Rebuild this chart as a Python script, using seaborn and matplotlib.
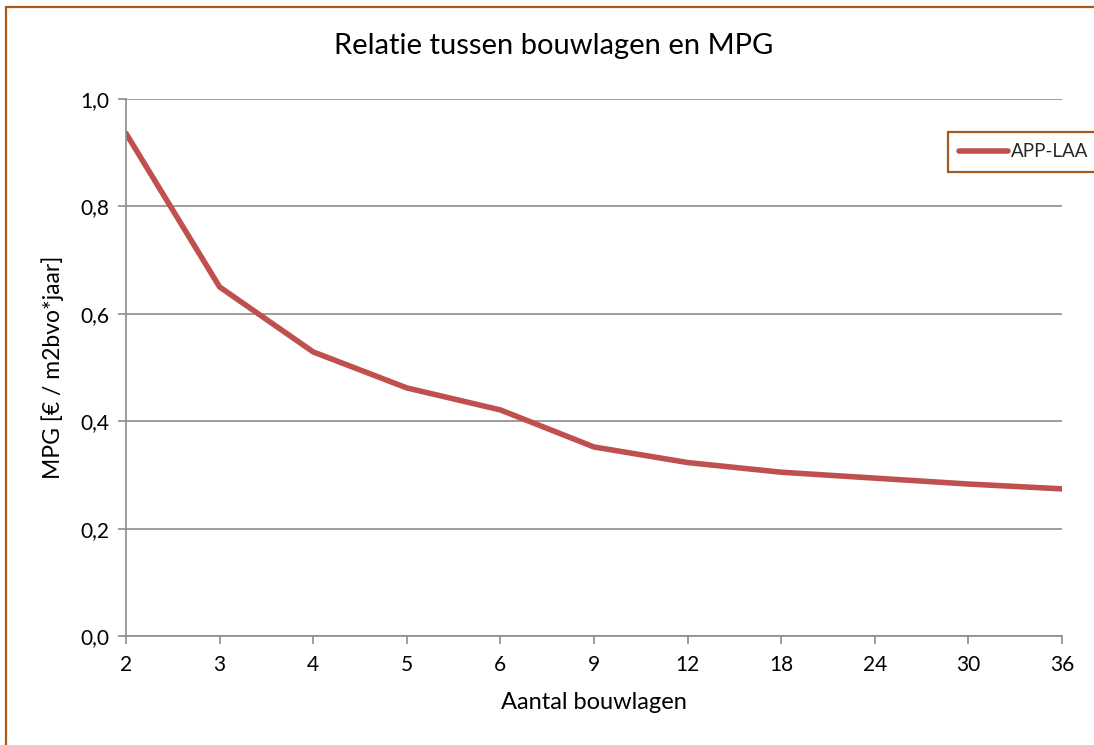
import matplotlib
matplotlib.use("Agg")
import matplotlib.pyplot as plt
from matplotlib.patches import Rectangle
import seaborn as sns
import pandas as pd

bouwlagen = ["2", "3", "4", "5", "6", "9", "12", "18", "24", "30", "36"]
mpg = [0.936, 0.650, 0.529, 0.462, 0.421, 0.352, 0.323, 0.305, 0.294, 0.283, 0.274]
y_ticks = [0.0, 0.2, 0.4, 0.6, 0.8, 1.0]
y_labels = ["0,0", "0,2", "0,4", "0,6", "0,8", "1,0"]
serie = "APP-LAA"

sns.set_theme(style="white")
plt.rcParams["font.family"] = ["Lato", "DejaVu Sans"]

df = pd.DataFrame({"Aantal bouwlagen": bouwlagen, "MPG": mpg})

fig = plt.figure(figsize=(10.94, 7.45), dpi=100)
ax = fig.add_axes([126 / 1094, 1 - 636 / 745, (1062 - 126) / 1094, (636 - 99) / 745])

border_col = "#A9581B"
grid_col = "#8C8C8C"
line_col = "#C0504D"

# chart frame
fig.patches.append(Rectangle((6 / 1094, -0.05), 1.1, 1 - 7 / 745 + 0.05,
                             transform=fig.transFigure, fill=False,
                             edgecolor=border_col, linewidth=1.6, zorder=0))

sns.lineplot(data=df, x="Aantal bouwlagen", y="MPG", ax=ax, color=line_col,
             linewidth=4, label=serie, sort=False, solid_capstyle="round")

ax.set_xlim(0, len(bouwlagen) - 1)
ax.set_ylim(0, 1.0)
ax.set_yticks(y_ticks)
ax.set_yticklabels(y_labels)
ax.set_xticks(range(len(bouwlagen)))
ax.set_xticklabels(bouwlagen)

ax.yaxis.grid(True, color=grid_col, linewidth=1.2)
ax.set_axisbelow(True)
for s in ["top", "right"]:
    ax.spines[s].set_visible(False)
for s in ["left", "bottom"]:
    ax.spines[s].set_color(grid_col)
    ax.spines[s].set_linewidth(1.2)

ax.tick_params(axis="both", which="major", direction="out", length=6, width=1.2,
               color=grid_col, labelsize=15, labelcolor="black")
ax.tick_params(axis="y", left=True, pad=6)
ax.tick_params(axis="x", bottom=True, pad=8)

ax.set_xlabel("Aantal bouwlagen", fontsize=17, color="black", labelpad=12)
ax.set_ylabel("MPG [€ / m2bvo*jaar]", fontsize=16.5, color="black", labelpad=12)
fig.text(554 / 1094, 1 - 46 / 745, "Relatie tussen bouwlagen en MPG", ha="center",
         va="center", fontsize=21, color="black")

leg = ax.legend(loc="upper left", bbox_to_anchor=(948 / 1094, 1 - 132 / 745),
                bbox_transform=fig.transFigure, frameon=True, fancybox=False,
                fontsize=13.5, handlelength=2.6, borderpad=0.6, handletextpad=0.15,
                borderaxespad=0)
leg.get_frame().set_edgecolor(border_col)
leg.get_frame().set_linewidth(1.6)
leg.get_frame().set_alpha(1)

fig.savefig("out.png", dpi=100)
